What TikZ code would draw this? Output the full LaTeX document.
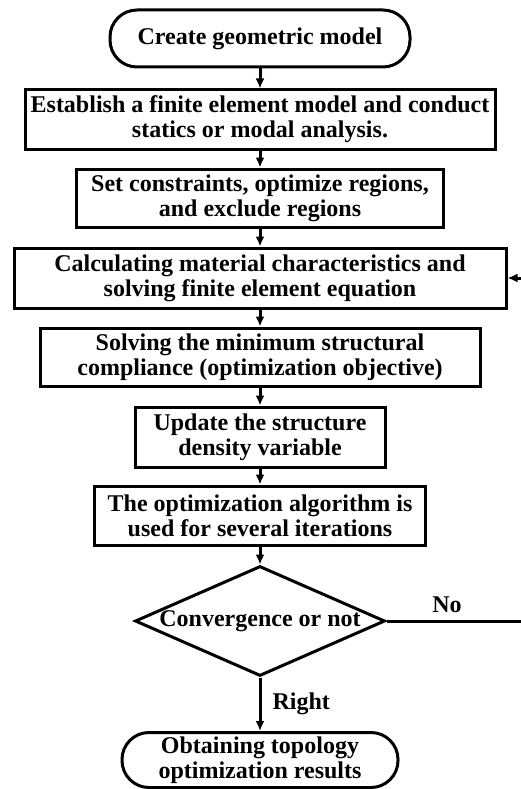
\documentclass[tikz,border=0pt]{standalone}
\usepackage{fontspec}
\setmainfont{Liberation Serif}
\usetikzlibrary{shapes.geometric,arrows.meta}
\begin{document}
\begin{tikzpicture}[x=1pt,y=-1pt,
  every node/.style={font=\fontsize{24}{25}\selectfont\bfseries},
  box/.style={draw, line width=3pt, align=center, inner sep=0pt},
  term/.style={box, rounded corners=27pt},
  arr/.style={line width=3pt, -{Latex[length=10pt,width=9pt]}},
  lbl/.style={inner sep=0pt}]
\useasboundingbox (0,0) rectangle (521,789);
\node[term, minimum width=300pt, minimum height=57pt] (t1) at (260,38.5) {Create geometric model};
\node[box, minimum width=470pt, minimum height=59pt] (b2) at (260,119.5) {Establish a finite element model and conduct\\statics or modal analysis.};
\node[box, minimum width=367pt, minimum height=58pt] (b3) at (260,198) {Set constraints, optimize regions,\\and exclude regions};
\node[box, minimum width=492pt, minimum height=60pt] (b4) at (260,278) {Calculating material characteristics and\\solving finite element equation};
\node[box, minimum width=440pt, minimum height=58pt] (b5) at (260,357) {Solving the minimum structural\\compliance (optimization objective)};
\node[box, minimum width=250pt, minimum height=60pt] (b6) at (260,437) {Update the structure\\density variable};
\node[box, minimum width=331pt, minimum height=59pt] (b7) at (260,515.5) {The optimization algorithm is\\used for several iterations};
\node[draw, diamond, line width=3pt, inner sep=0pt, minimum width=250pt, minimum height=110pt] (d) at (260,621) {};
\node[lbl] (dt) at (d.center) {Convergence or not};
\node[term, minimum width=276pt, minimum height=55pt] (t2) at (260,760) {Obtaining topology\\optimization results};
\node[lbl] (no) at (447,605) {No};
\coordinate (c1) at (540,621);
\coordinate (c2) at (540,278);
\draw[arr] (t1) -- (b2);
\draw[arr] (b2) -- (b3);
\draw[arr] (b3) -- (b4);
\draw[arr] (b4) -- (b5);
\draw[arr] (b5) -- (b6);
\draw[arr] (b6) -- (b7);
\draw[arr] (b7) -- (d);
\draw[arr] (d) -- node[lbl, anchor=west, xshift=11pt] (right) {Right} (t2);
\draw[arr] (d.east) -- (c1) -- (c2) -- (b4.east);
\end{tikzpicture}
\end{document}
